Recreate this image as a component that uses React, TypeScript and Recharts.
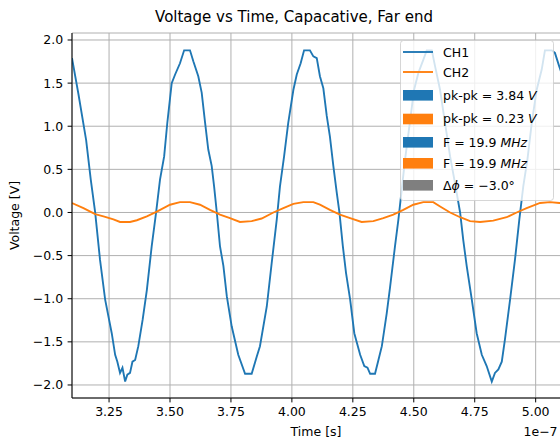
import React from 'react';
import { LineChart, Line, XAxis, YAxis, CartesianGrid, Legend } from 'recharts';

// Time in units of 1e-7 s, voltage in V
const ch1Time = [
  3.098, 3.124, 3.156, 3.175, 3.193, 3.213, 3.234, 3.261, 3.275, 3.284, 3.295, 3.305, 3.316, 3.325, 3.336,
  3.346, 3.357, 3.37, 3.388, 3.405, 3.425, 3.443, 3.459, 3.476, 3.489, 3.507, 3.521, 3.541, 3.558, 3.582,
  3.596, 3.616, 3.63, 3.644, 3.657, 3.671, 3.681, 3.692, 3.705, 3.719, 3.733, 3.753, 3.78, 3.808, 3.835,
  3.856, 3.869, 3.897, 3.917, 3.938, 3.951, 3.968, 3.985, 4.006, 4.02, 4.036, 4.05, 4.074, 4.088, 4.102,
  4.115, 4.129, 4.143, 4.156, 4.17, 4.184, 4.195, 4.209, 4.222, 4.239, 4.256, 4.28, 4.297, 4.31, 4.321,
  4.341, 4.355, 4.369, 4.389, 4.403, 4.423, 4.437, 4.446, 4.464, 4.482, 4.501, 4.519, 4.539, 4.553, 4.574,
  4.587, 4.608, 4.628, 4.649, 4.669, 4.69, 4.703, 4.717, 4.738, 4.758, 4.779, 4.799, 4.82, 4.833, 4.847,
  4.861, 4.874, 4.895, 4.915, 4.933, 4.949, 4.966, 4.984, 5.004, 5.025, 5.038, 5.066, 5.079, 5.096, 5.108,
];
const ch1Volt = [
  1.79, 1.38, 0.84, 0.38, 0.0, -0.55, -1.01, -1.4, -1.65, -1.73, -1.86, -1.8, -1.96, -1.88, -1.86,
  -1.73, -1.71, -1.55, -1.24, -0.9, -0.39, 0.0, 0.38, 0.65, 1.04, 1.5, 1.6, 1.73, 1.88, 1.88,
  1.75, 1.58, 1.39, 1.04, 0.73, 0.54, 0.3, 0.0, -0.39, -0.62, -0.97, -1.32, -1.65, -1.87, -1.87,
  -1.67, -1.55, -1.09, -0.59, -0.08, 0.3, 0.65, 1.04, 1.42, 1.6, 1.73, 1.88, 1.88, 1.81, 1.79,
  1.58, 1.44, 1.12, 0.88, 0.54, 0.23, 0.0, -0.39, -0.7, -1.01, -1.4, -1.65, -1.78, -1.8, -1.87,
  -1.87, -1.71, -1.55, -1.17, -0.86, -0.39, -0.08, 0.15, 0.61, 1.0, 1.42, 1.62, 1.77, 1.88, 1.88,
  1.7, 1.42, 1.04, 0.65, 0.34, 0.0, -0.32, -0.62, -1.01, -1.4, -1.65, -1.78, -1.96, -1.86, -1.82,
  -1.73, -1.47, -1.01, -0.55, -0.08, 0.3, 0.61, 1.04, 1.42, 1.66, 1.88, 1.88, 1.85, 1.7, 1.6,
];

const ch2Time = [
  3.098, 3.145, 3.193, 3.227, 3.268, 3.295, 3.336, 3.364, 3.405, 3.446, 3.5, 3.541, 3.582, 3.623, 3.664,
  3.705, 3.746, 3.787, 3.835, 3.876, 3.924, 3.965, 4.006, 4.047, 4.088, 4.115, 4.156, 4.197, 4.239, 4.286,
  4.334, 4.375, 4.416, 4.457, 4.498, 4.539, 4.58, 4.608, 4.649, 4.69, 4.731, 4.772, 4.826, 4.881, 4.922,
  4.963, 5.018, 5.059, 5.097, 5.108,
];
const ch2Volt = [
  0.11, 0.05, -0.02, -0.045, -0.08, -0.11, -0.11, -0.09, -0.045, 0.01, 0.09, 0.12, 0.12, 0.09, 0.03,
  -0.025, -0.065, -0.11, -0.1, -0.07, 0.0, 0.05, 0.1, 0.12, 0.12, 0.09, 0.03, -0.025, -0.065, -0.11,
  -0.1, -0.065, -0.025, 0.03, 0.09, 0.12, 0.12, 0.07, 0.0, -0.055, -0.1, -0.11, -0.095, -0.055, 0.0,
  0.05, 0.11, 0.12, 0.11, 0.11,
];

const xTicks = [3.25, 3.5, 3.75, 4.0, 4.25, 4.5, 4.75, 5.0];
const yTicks = [-2.0, -1.5, -1.0, -0.5, 0.0, 0.5, 1.0, 1.5, 2.0];
const xDomain = [3.098, 5.108];
const yDomain = [-2.151, 2.081];

const titleText = 'Voltage vs Time, Capacative, Far end';
const xLabelText = 'Time [s]';
const yLabelText = 'Voltage [V]';
const offsetText = '1e\u22127';
const seriesNames = ['CH1', 'CH2'];
const pkpkValues = ['3.84', '0.23'];
const freqValues = ['19.9', '19.9'];
const phaseValue = '\u22123.0\u00b0';

const C1 = '#1f77b4';
const C2 = '#ff7f0e';
const GRAY = '#7f7f7f';
const FONT = "'DejaVu Sans', sans-serif";

const LegendBox = () => {
  const tx = 43;
  const fs = 12.5;
  const lineRows = [
    { y: 12, color: C1, label: seriesNames[0] },
    { y: 32, color: C2, label: seriesNames[1] },
  ];
  const patchRows = [
    { y: 55.3, color: C1, kind: 'pk', v: pkpkValues[0] },
    { y: 79, color: C2, kind: 'pk', v: pkpkValues[1] },
    { y: 102.3, color: C1, kind: 'f', v: freqValues[0] },
    { y: 123.3, color: C2, kind: 'f', v: freqValues[1] },
    { y: 145.3, color: GRAY, kind: 'ph', v: phaseValue },
  ];
  return (
    <svg width={154} height={161} style={{ display: 'block', fontFamily: FONT }}>
      <rect x={0.5} y={0.5} width={153} height={160} rx={3} ry={3} fill="#ffffff" fillOpacity={0.8} stroke="#cccccc" strokeOpacity={0.8} strokeWidth={1} />
      {lineRows.map((r) => (
        <g key={r.label}>
          <line x1={3} x2={33} y1={r.y} y2={r.y} stroke={r.color} strokeWidth={1.875} />
          <text x={tx} y={r.y + 4.6} fontSize={fs} fill="#000">{r.label}</text>
        </g>
      ))}
      {patchRows.map((r, i) => (
        <g key={i}>
          <rect x={3} y={r.y - 5.3} width={30} height={10.6} fill={r.color} />
          <text x={tx} y={r.y + 4.4} fontSize={fs} fill="#000">
            {r.kind === 'pk' && (
              <>
                <tspan>{`pk-pk = ${r.v} `}</tspan>
                <tspan fontStyle="italic">V</tspan>
              </>
            )}
            {r.kind === 'f' && (
              <>
                <tspan>{`F = ${r.v} `}</tspan>
                <tspan fontStyle="italic">MHz</tspan>
              </>
            )}
            {r.kind === 'ph' && (
              <>
                <tspan>{'\u0394'}</tspan>
                <tspan fontStyle="italic">{'\u03d5'}</tspan>
                <tspan>{` = ${r.v}`}</tspan>
              </>
            )}
          </text>
        </g>
      ))}
    </svg>
  );
};

export default function App() {
  const ch1 = ch1Time.map((t, i) => ({ t, v: ch1Volt[i] }));
  const ch2 = ch2Time.map((t, i) => ({ t, v: ch2Volt[i] }));
  const tickStyle = { fill: '#000', fontSize: 12.5, fontFamily: FONT };
  return (
    <div style={{ position: 'fixed', left: 0, top: 0, width: 560, height: 443, overflow: 'hidden', background: '#fff' }}>
      <LineChart width={620} height={443} margin={{ top: 33, right: 58, bottom: 0, left: 12 }}>
        <CartesianGrid stroke="#b0b0b0" strokeWidth={1} />
        <XAxis
          dataKey="t"
          type="number"
          domain={xDomain}
          allowDataOverflow
          ticks={xTicks}
          interval={0}
          height={45}
          tickFormatter={(v: number) => v.toFixed(2)}
          tick={tickStyle}
          tickSize={4.4}
          tickMargin={4.7}
          axisLine={{ stroke: '#000', strokeWidth: 1 }}
          tickLine={{ stroke: '#000', strokeWidth: 1 }}
        />
        <XAxis
          xAxisId="top"
          orientation="top"
          type="number"
          domain={xDomain}
          allowDataOverflow
          height={0}
          tick={false}
          tickLine={false}
          axisLine={{ stroke: '#000', strokeWidth: 1 }}
        />
        <YAxis
          type="number"
          domain={yDomain}
          allowDataOverflow
          ticks={yTicks}
          interval={0}
          width={60}
          tickFormatter={(v: number) => v.toFixed(1).replace('-', '\u2212')}
          tick={tickStyle}
          tickSize={4.4}
          tickMargin={4.4}
          axisLine={{ stroke: '#000', strokeWidth: 1 }}
          tickLine={{ stroke: '#000', strokeWidth: 1 }}
        />
        <Line data={ch1} dataKey="v" name={seriesNames[0]} type="linear" stroke={C1} strokeWidth={1.875} dot={false} isAnimationActive={false} />
        <Line data={ch2} dataKey="v" name={seriesNames[1]} type="linear" stroke={C2} strokeWidth={1.875} dot={false} isAnimationActive={false} />
        <Legend
          layout="horizontal"
          verticalAlign="middle"
          align="center"
          wrapperStyle={{ position: 'absolute', left: 400, top: 40, width: 154, height: 161, margin: 0, padding: 0 }}
          content={() => <LegendBox />}
        />
      </LineChart>
      <svg width={560} height={443} style={{ position: 'absolute', left: 0, top: 0, pointerEvents: 'none', fontFamily: FONT }}>
        <text x={294} y={22} fontSize={15} textAnchor="middle" fill="#000">{titleText}</text>
        <text x={316} y={436} fontSize={12.5} textAnchor="middle" fill="#000">{xLabelText}</text>
        <text x={523.5} y={436} fontSize={12.5} textAnchor="start" fill="#000">{offsetText}</text>
        <text x={18.5} y={215.5} fontSize={12.5} textAnchor="middle" fill="#000" transform="rotate(-90 18.5 215.5)">{yLabelText}</text>
      </svg>
    </div>
  );
}
